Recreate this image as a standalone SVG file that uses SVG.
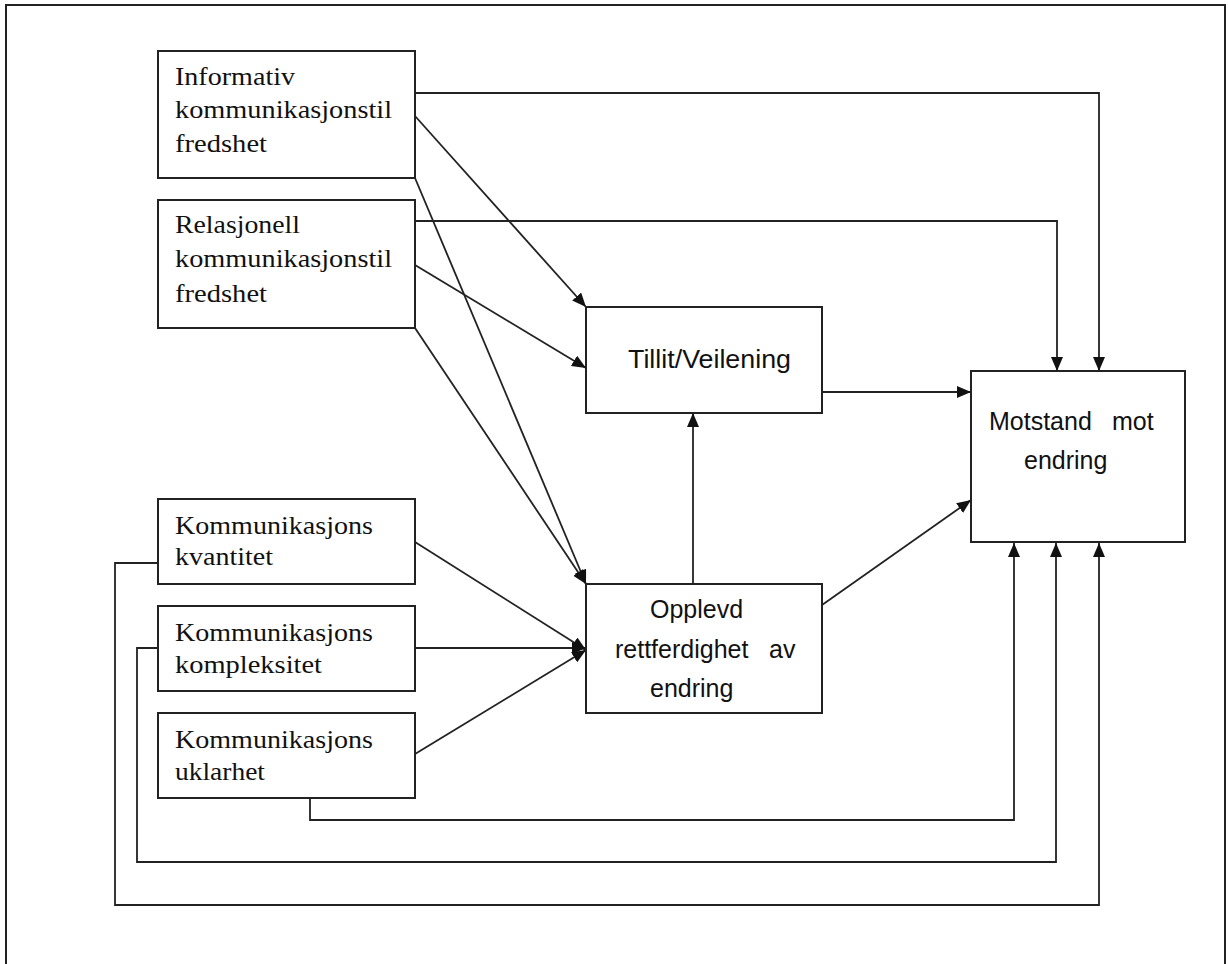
<svg xmlns="http://www.w3.org/2000/svg" width="1228" height="964" viewBox="0 0 1228 964">
<style>
.box{fill:#fff;stroke:#222;stroke-width:2}
.ser{font-family:"Liberation Serif","Times New Roman",serif;font-size:26px;fill:#111}
.san{font-family:"Liberation Sans",Arial,sans-serif;font-size:25px;fill:#111}
.con path{fill:none;stroke:#222;stroke-width:1.8}
.arr{marker-end:url(#ah)}
</style>
<defs>
<marker id="ah" markerWidth="14" markerHeight="12" refX="14" refY="6" orient="auto" markerUnits="userSpaceOnUse">
<path d="M0,0 L14,6 L0,12 z" fill="#111"/>
</marker>
</defs>
<rect x="0" y="0" width="1228" height="964" fill="#fff"/>
<rect x="6" y="5" width="1219" height="990" fill="none" stroke="#222" stroke-width="2"/>

<g class="con">
<path class="arr" d="M415,93 H1099 V371"/>
<path class="arr" d="M415,221 H1057 V371"/>
<path class="arr" d="M415,116 L586,307"/>
<path class="arr" d="M415,178 L586,584"/>
<path class="arr" d="M415,265 L586,368"/>
<path class="arr" d="M415,328 L586,584"/>
<path class="arr" d="M415,542 L586,650"/>
<path class="arr" d="M415,648 L586,648"/>
<path class="arr" d="M415,754 L586,650"/>
<path class="arr" d="M693,584 V413"/>
<path class="arr" d="M822,392 H971"/>
<path class="arr" d="M822,605 L971,500"/>
<path class="arr" d="M310,798 V820 H1014 V543"/>
<path class="arr" d="M158,648 H137 V862 H1056 V543"/>
<path class="arr" d="M158,563 H115 V905 H1099 V543"/>
</g>

<g id="informativ">
<rect class="box" x="158" y="51" width="257" height="127"/>
<text class="ser" x="175" y="85" textLength="120" lengthAdjust="spacingAndGlyphs">Informativ</text>
<text class="ser" x="175" y="118" textLength="217" lengthAdjust="spacingAndGlyphs">kommunikasjonstil</text>
<text class="ser" x="175" y="152" textLength="92" lengthAdjust="spacingAndGlyphs">fredshet</text>
</g>
<g id="relasjonell">
<rect class="box" x="158" y="200" width="257" height="128"/>
<text class="ser" x="175" y="233" textLength="125" lengthAdjust="spacingAndGlyphs">Relasjonell</text>
<text class="ser" x="175" y="267" textLength="217" lengthAdjust="spacingAndGlyphs">kommunikasjonstil</text>
<text class="ser" x="175" y="302" textLength="92" lengthAdjust="spacingAndGlyphs">fredshet</text>
</g>
<g id="kvantitet">
<rect class="box" x="158" y="499" width="257" height="85"/>
<text class="ser" x="175" y="534" textLength="198" lengthAdjust="spacingAndGlyphs">Kommunikasjons</text>
<text class="ser" x="175" y="565" textLength="98" lengthAdjust="spacingAndGlyphs">kvantitet</text>
</g>
<g id="kompleksitet">
<rect class="box" x="158" y="606" width="257" height="85"/>
<text class="ser" x="175" y="641" textLength="198" lengthAdjust="spacingAndGlyphs">Kommunikasjons</text>
<text class="ser" x="175" y="673" textLength="147" lengthAdjust="spacingAndGlyphs">kompleksitet</text>
</g>
<g id="uklarhet">
<rect class="box" x="158" y="713" width="257" height="85"/>
<text class="ser" x="175" y="748" textLength="198" lengthAdjust="spacingAndGlyphs">Kommunikasjons</text>
<text class="ser" x="175" y="780" textLength="90" lengthAdjust="spacingAndGlyphs">uklarhet</text>
</g>
<g id="tillit">
<rect class="box" x="586" y="307" width="236" height="106"/>
<text class="san" x="628" y="368" textLength="163" lengthAdjust="spacingAndGlyphs">Tillit/Veilening</text>
</g>
<g id="opplevd">
<rect class="box" x="586" y="584" width="236" height="129"/>
<text class="san" x="650" y="618">Opplevd</text>
<text class="san" y="658"><tspan x="615">rettferdighet</tspan><tspan x="769">av</tspan></text>
<text class="san" x="650" y="697">endring</text>
</g>
<g id="motstand">
<rect class="box" x="971" y="371" width="214" height="171"/>
<text class="san" y="430"><tspan x="989">Motstand</tspan><tspan x="1112">mot</tspan></text>
<text class="san" x="1024" y="469">endring</text>
</g>
</svg>
